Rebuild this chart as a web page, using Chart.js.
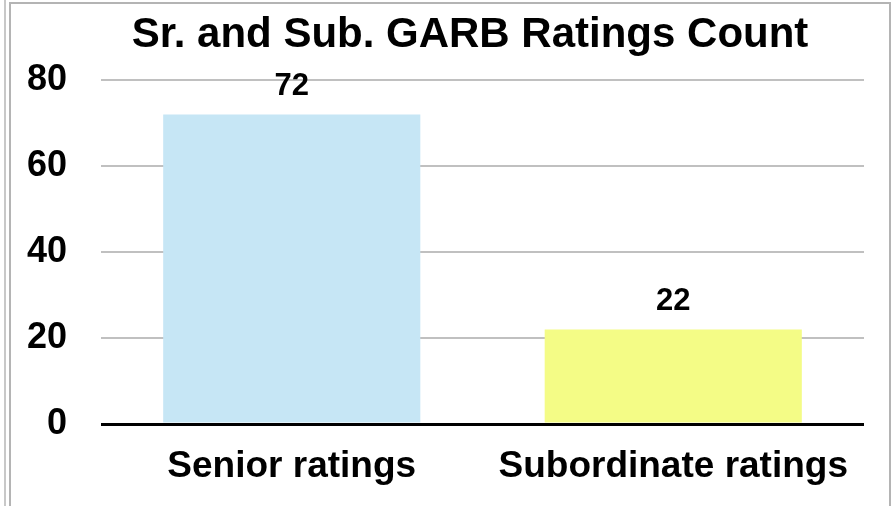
<!DOCTYPE html>
<html>
<head>
<meta charset="utf-8">
<script src="https://cdn.jsdelivr.net/npm/chart.js@4.4.1/dist/chart.umd.min.js"></script>
<style>
html,body{margin:0;padding:0;background:#fff;overflow:hidden;}
#wrap{position:absolute;left:0;top:0;width:893px;height:506px;}
#frameOuter{position:absolute;left:4px;top:0;width:0;height:506px;border-left:2px solid #c8c8c8;}
#frameInner{position:absolute;left:9px;top:2px;width:878px;height:520px;border:2px solid #b4b4b4;}
</style>
</head>
<body>
<div id="wrap">
    <canvas id="garb" width="893" height="506"></canvas>
</div>
<div id="frameOuter"></div>
<div id="frameInner"></div>
<script>
var chartTitle = "Sr. and Sub. GARB Ratings Count";
var categories = ["Senior ratings", "Subordinate ratings"];
var counts = [72, 22];
var barColors = ["#c6e6f5", "#f4fc86"];
var yTicks = [0, 20, 40, 60, 80];

var fontName = "'Liberation Sans', Arial, Helvetica, sans-serif";

// title sits a bit left of the plot centre in the original, so draw it by hand
var titleText = {
    id: "titleText",
    afterDraw: function (chart) {
        var ctx = chart.ctx;
        var area = chart.chartArea;
        ctx.save();
        ctx.font = "bold 42px " + fontName;
        ctx.fillStyle = "#000";
        ctx.textAlign = "center";
        ctx.textBaseline = "alphabetic";
        ctx.fillText(chartTitle, (area.left - 25 + area.right) / 2, 47);
        ctx.restore();
    }
};

// value labels above each bar
var valueLabels = {
    id: "valueLabels",
    afterDatasetsDraw: function (chart) {
        var ctx = chart.ctx;
        var meta = chart.getDatasetMeta(0);
        ctx.save();
        ctx.font = "bold 31px " + fontName;
        ctx.fillStyle = "#000";
        ctx.textAlign = "center";
        ctx.textBaseline = "alphabetic";
        meta.data.forEach(function (bar, i) {
            ctx.fillText(String(counts[i]), bar.x, bar.y - 19);
        });
        ctx.restore();
    }
};

var ctx = document.getElementById("garb").getContext("2d");
var chart = new Chart(ctx, {
    type: "bar",
    data: {
        labels: categories,
        datasets: [{
            label: "Count",
            data: counts,
            backgroundColor: barColors,
            borderWidth: 0,
            categoryPercentage: 1,
            barPercentage: 0.674
        }]
    },
    options: {
        responsive: false,
        animation: false,
        layout: {
            padding: {left: 0, right: 29, top: 80, bottom: 0}
        },
        plugins: {
            legend: {display: false},
            tooltip: {enabled: false},
            title: {display: false}
        },
        scales: {
            x: {
                grid: {display: false, drawTicks: false},
                border: {display: false},
                ticks: {
                    color: "#000",
                    padding: 21,
                    font: {family: fontName, size: 37, weight: "bold"}
                },
                afterFit: function (scale) {
                    scale.height = 82;
                }
            },
            y: {
                min: 0,
                max: 80,
                afterBuildTicks: function (scale) {
                    scale.ticks = yTicks.map(function (v) { return {value: v}; });
                },
                grid: {
                    drawTicks: false,
                    color: function (c) { return c.tick && c.tick.value === 0 ? "#000" : "#c0c0c0"; },
                    lineWidth: function (c) { return c.tick && c.tick.value === 0 ? 3 : 2; }
                },
                border: {display: false},
                ticks: {
                    color: "#000",
                    padding: 34,
                    font: {family: fontName, size: 36, weight: "bold"}
                },
                afterFit: function (scale) {
                    scale.width = 101;
                }
            }
        }
    },
    plugins: [valueLabels, titleText]
});
</script>
</body>
</html>
